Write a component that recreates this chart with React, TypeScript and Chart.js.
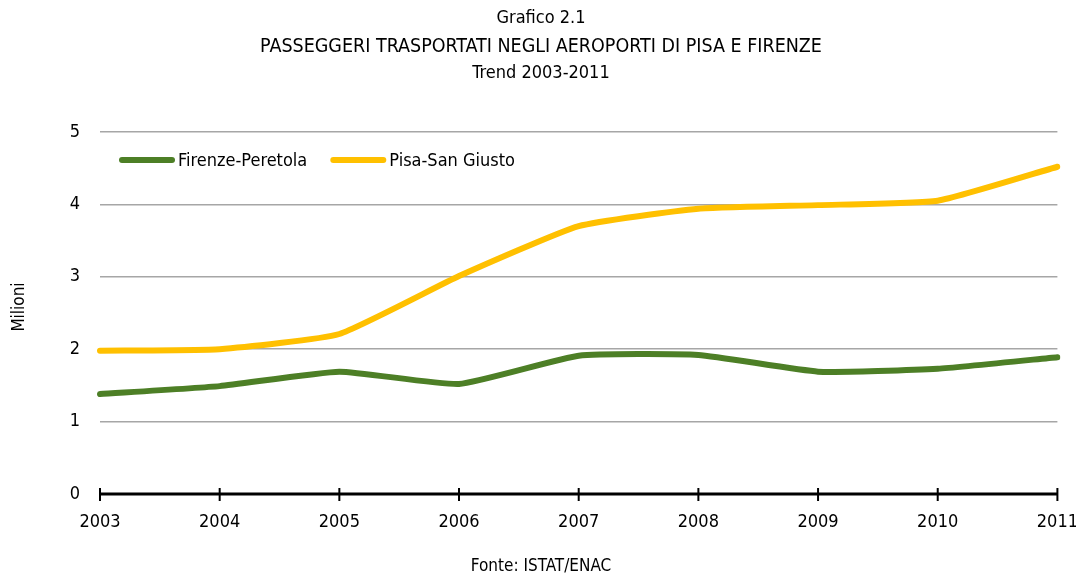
import React, { useEffect, useRef } from "react";
import { Chart, registerables } from "chart.js";
Chart.register(...registerables);

const years = ["2003", "2004", "2005", "2006", "2007", "2008", "2009", "2010", "2011"];
const firenze = [1.38, 1.49, 1.69, 1.52, 1.91, 1.92, 1.69, 1.73, 1.89];
const pisa = [1.98, 2.0, 2.21, 3.01, 3.7, 3.94, 3.99, 4.05, 4.52];
const seriesNames = ["Firenze-Peretola", "Pisa-San Giusto"];
const seriesColors = ["#4D7F26", "#FFC000"];
const titleLines = ["Grafico 2.1", "PASSEGGERI TRASPORTATI NEGLI AEROPORTI DI PISA E FIRENZE", "Trend 2003-2011"];
const yTitle = "Milioni";
const footer = "Fonte: ISTAT/ENAC";

const FONT = "'DejaVu Sans Condensed', 'Liberation Sans Narrow', sans-serif";

const decor = {
  id: "decor",
  afterDraw(chart: any) {
    const ctx = chart.ctx;
    const xs = chart.scales.x;
    const ys = chart.scales.y;
    const area = chart.chartArea;
    ctx.save();
    const y0 = ys.getPixelForValue(0);
    ctx.strokeStyle = "#000";
    ctx.lineWidth = 3;
    ctx.beginPath();
    ctx.moveTo(xs.getPixelForValue(0), y0);
    ctx.lineTo(xs.getPixelForValue(years.length - 1), y0);
    ctx.stroke();
    ctx.lineWidth = 2;
    for (let i = 0; i < years.length; i++) {
      const px = xs.getPixelForValue(i);
      ctx.beginPath();
      ctx.moveTo(px, y0 - 6);
      ctx.lineTo(px, y0 + 7);
      ctx.stroke();
    }
    ctx.fillStyle = "#000";
    ctx.textAlign = "center";
    ctx.textBaseline = "middle";
    const cx = 541;
    ctx.font = `18px ${FONT}`;
    ctx.fillText(titleLines[0], cx, 18);
    ctx.font = `19.5px ${FONT}`;
    ctx.fillText(titleLines[1], cx, 47);
    ctx.font = `18px ${FONT}`;
    ctx.fillText(titleLines[2], cx, 73);
    ctx.font = `17px ${FONT}`;
    ctx.fillText(footer, cx, 567);
    ctx.save();
    ctx.translate(20, 307);
    ctx.rotate(-Math.PI / 2);
    ctx.fillText(yTitle, 0, 0);
    ctx.restore();
    const ly = 160;
    let lx = area.left + 22;
    ctx.textAlign = "left";
    ctx.font = `18px ${FONT}`;
    chart.data.datasets.forEach((ds: any) => {
      ctx.strokeStyle = ds.borderColor;
      ctx.lineWidth = 6;
      ctx.lineCap = "round";
      ctx.beginPath();
      ctx.moveTo(lx, ly);
      ctx.lineTo(lx + 50, ly);
      ctx.stroke();
      ctx.fillStyle = "#000";
      ctx.fillText(ds.label, lx + 56, ly + 1);
      lx += 56 + ctx.measureText(ds.label).width + 26;
    });
    ctx.restore();
  },
};

export default function App() {
  const ref = useRef<HTMLCanvasElement>(null);
  useEffect(() => {
    const chart = new Chart(ref.current!, {
      type: "line",
      data: {
        labels: years,
        datasets: [
          { label: seriesNames[0], data: firenze, borderColor: seriesColors[0], backgroundColor: seriesColors[0], borderWidth: 6, pointRadius: 0, tension: 0.15, borderCapStyle: "round" },
          { label: seriesNames[1], data: pisa, borderColor: seriesColors[1], backgroundColor: seriesColors[1], borderWidth: 6, pointRadius: 0, tension: 0.15, borderCapStyle: "round" },
        ],
      },
      options: {
        animation: false,
        responsive: false,
        maintainAspectRatio: false,
        layout: { padding: { left: 0, top: 132, right: 0, bottom: 0 } },
        plugins: { legend: { display: false }, title: { display: false }, tooltip: { enabled: false } },
        scales: {
          x: {
            offset: false,
            grid: { display: false },
            border: { display: false },
            ticks: { color: "#000", font: { family: FONT, size: 18 }, padding: 10, maxRotation: 0, autoSkip: false },
            afterFit(s: any) { s.height = 83; },
          },
          y: {
            min: 0,
            max: 5,
            grid: { color: "#A6A6A6", lineWidth: 1.5, drawTicks: false },
            border: { display: false },
            ticks: { stepSize: 1, color: "#000", font: { family: FONT, size: 18 }, padding: 20 },
            afterFit(s: any) { s.width = 100; },
          },
        },
      },
      plugins: [decor],
    });
    return () => chart.destroy();
  }, []);
  return (
    <div style={{ position: "fixed", left: 0, top: 0, width: 1076, height: 577, background: "#fff", overflow: "hidden" }}>
      <canvas ref={ref} width={1088} height={577} style={{ display: "block" }} />
    </div>
  );
}
